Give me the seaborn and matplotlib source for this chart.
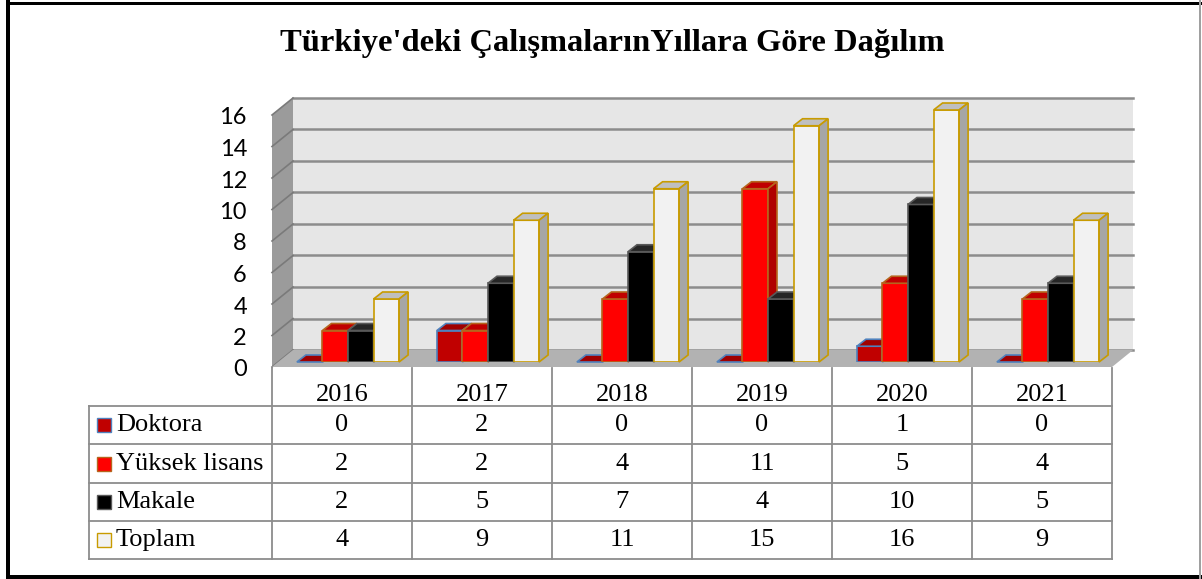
import pandas as pd
import matplotlib
matplotlib.use('Agg')
import matplotlib.pyplot as plt
from matplotlib.patches import Polygon, Rectangle
import seaborn as sns

# data
years = ['2016', '2017', '2018', '2019', '2020', '2021']
series = ['Doktora', 'Yüksek lisans', 'Makale', 'Toplam']
doktora = [0, 2, 0, 0, 1, 0]
yuksek_lisans = [2, 2, 4, 11, 5, 4]
makale = [2, 5, 7, 4, 10, 5]
toplam = [4, 9, 11, 15, 16, 9]
yticks = [0, 2, 4, 6, 8, 10, 12, 14, 16]

face = ['#c00000', '#ff0000', '#000000', '#f2f2f2']
edge = ['#4f81bd', '#b5651d', '#595959', '#c89b00']
side = ['#8b0000', '#b00000', '#1a1a1a', '#a6a6a6']
top = ['#a00000', '#c00000', '#262626', '#bfbfbf']

values = [doktora, yuksek_lisans, makale, toplam]
df = pd.DataFrame({
    'Yıl': years * len(series),
    'Tür': [s for s in series for _ in years],
    'Sayı': [v for vals in values for v in vals],
})

W, H = 1202, 579
fig = plt.figure(figsize=(W / 100, H / 100), dpi=100)

# main plot area = plane of the bar fronts
ax = fig.add_axes([278 / W, (H - 362) / H, 840 / W, 252 / H])
sns.barplot(data=df, x='Yıl', y='Sayı', hue='Tür', palette=dict(zip(series, face)),
            width=0.73, saturation=1, legend=False, ax=ax)
ax.set_xlim(-0.5, 5.5)
ax.set_ylim(0, 16)
ax.set_axis_off()
bars = sorted([p for p in ax.patches if isinstance(p, Rectangle)], key=lambda p: p.get_x())

pxx = 840 / 6      # pixels per category
pxy = 252 / 16     # pixels per unit
bdx, bdy = 15 / pxx, 12 / pxy   # back wall offset
fdx, fdy = -6 / pxx, -5 / pxy   # front edge offset
ddx, ddy = 9 / pxx, 7 / pxy     # bar depth

# back wall, side wall, floor
ax.add_patch(Rectangle((-0.5 + bdx, bdy), 6, 16, fc='#e6e6e6', ec='none', zorder=0, clip_on=False))
ax.add_patch(Polygon([(-0.5 + fdx, fdy), (-0.5 + bdx, bdy), (-0.5 + bdx, 16 + bdy), (-0.5 + fdx, 16 + fdy)],
                     fc='#9b9b9b', ec='none', zorder=0, clip_on=False))
for v in yticks:
    ax.plot([-0.5 + bdx, 5.5 + bdx], [v + bdy, v + bdy], color='#8c8c8c', lw=1.8, zorder=1, clip_on=False)
    ax.plot([-0.5 + fdx, -0.5 + bdx], [v + fdy, v + bdy], color='#7a7a7a', lw=1.2, zorder=1, clip_on=False)
    ax.text(-0.5 - 31 / pxx, v + fdy - 3 / pxy, str(v), ha='right', va='center', fontsize=17,
            family=['Lato', 'DejaVu Sans'], color='#000000')
ax.add_patch(Polygon([(-0.5 + fdx, fdy), (5.5 + fdx, fdy), (5.5 + bdx, bdy), (-0.5 + bdx, bdy)],
                     fc='#b2b2b2', ec='none', zorder=2, clip_on=False))

# 3d faces on the bars
bw = 0.73 / 4
z = 5
for p in bars:
    x0, w, h = p.get_x(), p.get_width(), p.get_height()
    cat = round(x0 + w / 2)
    k = int(round((x0 + w / 2 - cat) / bw + 1.5))
    p.set_edgecolor(edge[k])
    p.set_linewidth(1.2)
    p.set_zorder(z)
    ax.add_patch(Polygon([(x0, h), (x0 + w, h), (x0 + w + ddx, h + ddy), (x0 + ddx, h + ddy)],
                         fc=top[k], ec=edge[k], lw=1.2, zorder=z + 1, clip_on=False))
    ax.add_patch(Polygon([(x0 + w, 0), (x0 + w + ddx, ddy), (x0 + w + ddx, h + ddy), (x0 + w, h)],
                         fc=side[k], ec=edge[k], lw=1.2, zorder=z + 2, clip_on=False))
    z += 3

# data table
tax = fig.add_axes([89 / W, (H - 559) / H, 1023 / W, 191 / H])
x_left = -0.5 - 183 / 140
tax.set_xlim(x_left, 5.5)
tax.set_ylim(3.5, -1.5)
tax.set_axis_off()
line_c = '#8c8c8c'
for yv in [-0.5, 0.5, 1.5, 2.5, 3.5]:
    tax.plot([x_left, 5.5], [yv, yv], color=line_c, lw=1.3, clip_on=False)
tax.plot([x_left, x_left], [-0.5, 3.5], color=line_c, lw=1.3, clip_on=False)
for i in range(7):
    tax.plot([i - 0.5, i - 0.5], [-1.5, 3.5], color=line_c, lw=1.3, clip_on=False)

serif = ['Liberation Serif', 'DejaVu Serif']
fs = 19
for i, yr in enumerate(years):
    tax.text(i, -0.8, yr, ha='center', va='center', fontsize=fs, family=serif)
for k, (name, vals) in enumerate(zip(series, values)):
    tax.add_patch(Rectangle((x_left + 8 / 140, k - 7 / 38.2), 14 / 140, 14 / 38.2,
                            fc=face[k], ec=edge[k], lw=1.0))
    tax.text(x_left + 27 / 140, k, name, ha='left', va='center', fontsize=fs, family=serif)
    for i, v in enumerate(vals):
        tax.text(i, k, str(v), ha='center', va='center', fontsize=fs, family=serif)

# title
fig.text(612 / W, 1 - 44 / H, "Türkiye'deki ÇalışmalarınYıllara Göre Dağılım", ha='center', va='center',
         fontsize=23.4, fontweight='bold', family=serif)

# outer frame
fig.add_artist(Rectangle((6 / W, 0), 4 / W, 1, transform=fig.transFigure, fc='black', ec='none'))
fig.add_artist(Rectangle((6 / W, 1 - 5 / H), 1 - 6 / W, 3 / H, transform=fig.transFigure, fc='black', ec='none'))
fig.add_artist(Rectangle((6 / W, 0), 1 - 6 / W, 4 / H, transform=fig.transFigure, fc='black', ec='none'))
fig.add_artist(Rectangle((1199 / W, 0), 1.5 / W, 1, transform=fig.transFigure, fc='#a0a0a0', ec='none'))

fig.savefig('out.png', dpi=100)
